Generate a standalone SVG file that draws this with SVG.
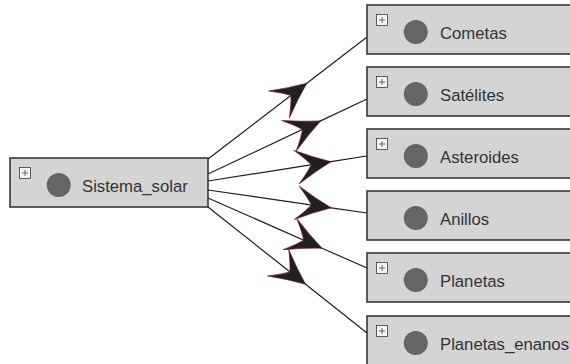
<svg xmlns="http://www.w3.org/2000/svg" width="570" height="364" viewBox="0 0 570 364">
<defs>
<style>
.box{fill:#d4d4d5;stroke:#2b2b2b;stroke-width:1.5}
.pb{fill:#f4f4f4;stroke:#3a3a3a;stroke-width:0.8}
.pl{stroke:#555;stroke-width:0.9}
.dot{fill:#656567}
.lbl{font-family:"Liberation Sans",Arial,sans-serif;font-size:16.7px;fill:#333}
.con{fill:none;stroke:#1e1e1e;stroke-width:1.2;marker-mid:url(#arr)}
</style>
<marker id="arr" markerUnits="userSpaceOnUse" viewBox="-40 -20 44 40" markerWidth="44" markerHeight="40" refX="0" refY="0" orient="auto" overflow="visible">
<path d="M0,0 Q-17,-7 -35,-17 Q-25,-7 -20,0 Q-25,7 -35,17 Q-17,7 0,0 Z" fill="#231f20" stroke="#6e1a22" stroke-width="0.6"/>
</marker>
</defs>
<g id="connectors">
<path class="con" d="M208,159 L306.8,83.2 L367,37"/>
<path class="con" d="M208,174 L320.6,120.9 L367,99"/>
<path class="con" d="M208,181 L331,161.7 L367,156"/>
<path class="con" d="M208,190 L331.2,207.8 L367,213"/>
<path class="con" d="M208,198 L322,248.2 L367,268"/>
<path class="con" d="M208,207 L305.6,284.3 L367,333"/>
</g>
<g id="sistema_solar">
<rect class="box" x="10" y="158" width="198" height="49"/>
<rect class="pb" x="19.5" y="167.5" width="11" height="11"/>
<path class="pl" d="M22,173 H28 M25,170 V176"/>
<circle class="dot" cx="58.7" cy="185" r="12"/>
<text class="lbl" x="82" y="191.5">Sistema_solar</text>
</g>
<g id="cometas">
<rect class="box" x="367" y="5" width="230" height="49"/>
<rect class="pb" x="376.5" y="14.5" width="11" height="11"/>
<path class="pl" d="M379,20 H385 M382,17 V23"/>
<circle class="dot" cx="415.8" cy="32" r="12"/>
<text class="lbl" x="440" y="38.5">Cometas</text>
</g>
<g id="satelites">
<rect class="box" x="367" y="67" width="230" height="49"/>
<rect class="pb" x="376.5" y="76.5" width="11" height="11"/>
<path class="pl" d="M379,82 H385 M382,79 V85"/>
<circle class="dot" cx="415.8" cy="94" r="12"/>
<text class="lbl" x="440" y="100.5">Satélites</text>
</g>
<g id="asteroides">
<rect class="box" x="367" y="129" width="230" height="49"/>
<rect class="pb" x="376.5" y="138.5" width="11" height="11"/>
<path class="pl" d="M379,144 H385 M382,141 V147"/>
<circle class="dot" cx="415.8" cy="156" r="12"/>
<text class="lbl" x="440" y="162.5">Asteroides</text>
</g>
<g id="anillos">
<rect class="box" x="367" y="191" width="230" height="49"/>
<circle class="dot" cx="415.8" cy="218" r="12"/>
<text class="lbl" x="440" y="224.5">Anillos</text>
</g>
<g id="planetas">
<rect class="box" x="367" y="253" width="230" height="49"/>
<rect class="pb" x="376.5" y="262.5" width="11" height="11"/>
<path class="pl" d="M379,268 H385 M382,265 V271"/>
<circle class="dot" cx="415.8" cy="280" r="12"/>
<text class="lbl" x="440" y="286.5">Planetas</text>
</g>
<g id="planetas_enanos">
<rect class="box" x="367" y="316" width="230" height="60"/>
<rect class="pb" x="376.5" y="325.5" width="11" height="11"/>
<path class="pl" d="M379,331 H385 M382,328 V334"/>
<circle class="dot" cx="415.8" cy="343" r="12"/>
<text class="lbl" x="440" y="349.5">Planetas_enanos</text>
</g>
</svg>
